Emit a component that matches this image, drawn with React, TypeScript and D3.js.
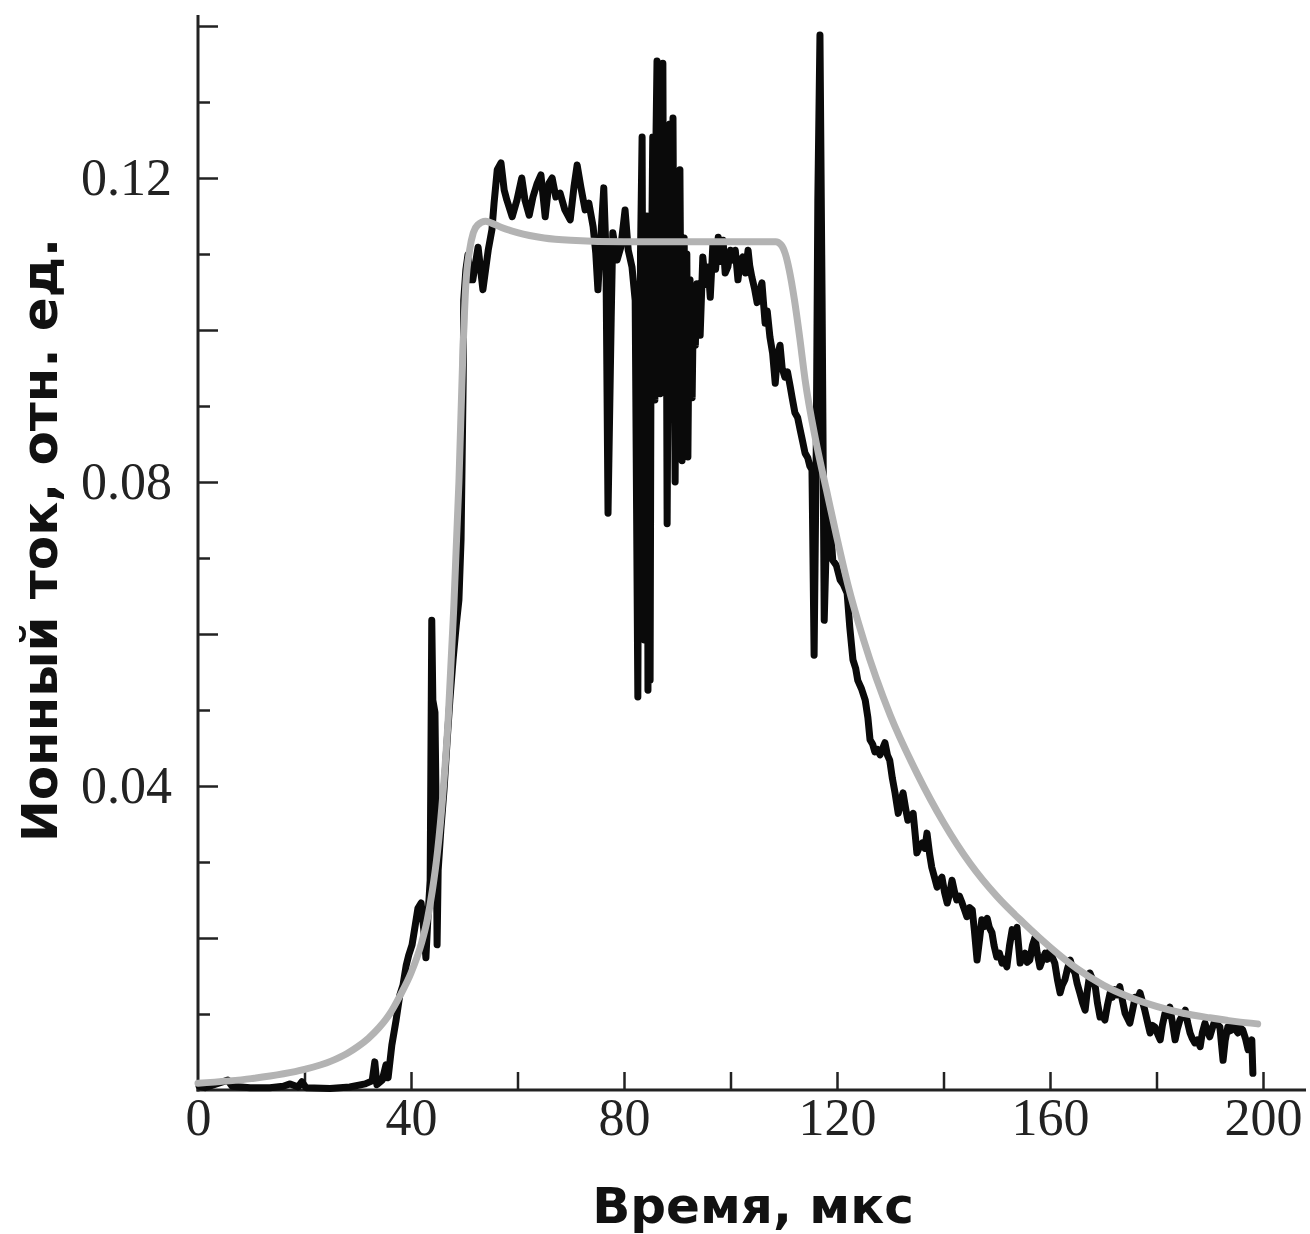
import React, { useEffect, useRef } from 'react';
import * as d3 from 'd3';

// измеренный ионный ток: [время, мкс; ток, отн. ед.]
const measured: [number, number][] = [
  [0.2, 0.0005], [1.3, 0.0003], [5.6, 0.0013], [6.4, 0.0005], [9.8, 0.0003], [13.5, 0.0003],
  [16, 0.0005], [17.3, 0.0008], [18.8, 0.0004], [19.5, 0.0011], [20.3, 0.0003], [24.8, 0.0002],
  [28.5, 0.0004], [31.4, 0.0008], [32.7, 0.0012], [33.2, 0.0037], [33.6, 0.0007], [34.6, 0.0013],
  [35.3, 0.0033], [35.7, 0.0016],
  [36.4, 0.0059], [37.2, 0.0092], [37.9, 0.0125], [38.5, 0.0138], [39.1, 0.0164], [39.6, 0.0178],
  [40.2, 0.0191], [40.8, 0.0217], [41.3, 0.0239], [41.9, 0.0246], [42.4, 0.0211], [42.8, 0.0174],
  [43.2, 0.023], [43.6, 0.0276], [43.9, 0.0618], [44.1, 0.0513], [44.5, 0.0497], [44.7, 0.0382],
  [44.9, 0.0191], [45.1, 0.0289], [45.6, 0.0342], [46.2, 0.0395], [46.8, 0.0461], [47.3, 0.0513],
  [47.9, 0.0566], [48.5, 0.0612], [49.0, 0.0645], [49.4, 0.0724], [49.6, 0.0829], [49.8, 0.0934],
  [49.9, 0.1039], [50.3, 0.1079], [50.7, 0.1099], [51.1, 0.1066],
  [51.6, 0.1066], [52.6, 0.1109], [53.5, 0.1053], [54.5, 0.1105], [55.2, 0.1132], [55.6, 0.1167],
  [56.2, 0.1211], [56.9, 0.122], [57.5, 0.1184], [58.0, 0.1171], [59.0, 0.1149], [59.9, 0.1171],
  [60.8, 0.12], [61.4, 0.1171], [62.2, 0.1151], [62.9, 0.1175], [63.7, 0.1193], [64.4, 0.1204],
  [65.2, 0.1149], [65.9, 0.1193], [66.5, 0.12], [67.2, 0.1175], [68.0, 0.118], [68.9, 0.1158],
  [69.9, 0.1145], [70.6, 0.1188], [71.2, 0.1217], [71.9, 0.1188], [72.7, 0.1158], [73.4, 0.1167],
  [74.2, 0.1136], [74.7, 0.1101], [75.1, 0.1053], [75.7, 0.1128], [76.2, 0.1187], [76.6, 0.1105],
  [77.0, 0.0759], [77.6, 0.1017], [77.9, 0.1128], [78.7, 0.1092], [79.4, 0.1109], [80.2, 0.1158],
  [80.8, 0.1105], [81.5, 0.1083], [82.1, 0.1039],
  [82.6, 0.0517], [82.8, 0.09], [82.9, 0.0697], [83.1, 0.11], [83.4, 0.1254], [83.6, 0.085],
  [83.8, 0.0592], [84.0, 0.1], [84.1, 0.0934], [84.3, 0.115], [84.5, 0.0526], [84.7, 0.095],
  [84.9, 0.0539], [85.1, 0.1039], [85.3, 0.118], [85.4, 0.1254], [85.6, 0.095], [85.8, 0.0908],
  [86.0, 0.125], [86.2, 0.1354], [86.4, 0.1], [86.6, 0.1171], [86.8, 0.0916], [86.9, 0.1276],
  [87.1, 0.11], [87.3, 0.1351], [87.5, 0.095], [87.7, 0.1039], [87.9, 0.118], [88.1, 0.0745],
  [88.3, 0.1], [88.5, 0.1237], [88.6, 0.1271], [88.8, 0.095], [89.0, 0.1092], [89.2, 0.1279],
  [89.4, 0.1], [89.6, 0.08], [89.8, 0.105], [90.0, 0.1149], [90.2, 0.095], [90.3, 0.0908],
  [90.5, 0.1211], [90.7, 0.1], [90.9, 0.0828], [91.1, 0.105], [91.3, 0.1121], [91.5, 0.092],
  [91.6, 0.0974], [91.8, 0.11], [92.0, 0.0833], [92.2, 0.1], [92.4, 0.1066], [92.6, 0.095],
  [92.8, 0.0911], [93.0, 0.102], [93.1, 0.1039], [93.4, 0.098], [93.7, 0.1061], [94.3, 0.0993],
  [94.8, 0.1096], [95.3, 0.106], [95.8, 0.1083], [96.2, 0.1043], [96.7, 0.1114], [97.2, 0.108],
  [97.7, 0.1122], [98.1, 0.109], [98.6, 0.1118], [99.0, 0.1075], [99.5, 0.1083], [100.0, 0.1105],
  [100.5, 0.1092], [100.9, 0.1105], [101.4, 0.1066], [101.8, 0.109], [102.3, 0.1096], [102.8, 0.1075],
  [103.3, 0.1105], [103.6, 0.1085], [104.0, 0.107], [104.5, 0.1055], [105.0, 0.1036], [105.4, 0.105],
  [105.9, 0.1062], [106.5, 0.1009], [106.9, 0.1025], [107.4, 0.0991], [107.9, 0.097], [108.4, 0.093],
  [108.8, 0.0965], [109.3, 0.098], [109.7, 0.095], [110.2, 0.0938], [110.7, 0.0945], [111.2, 0.0926],
  [111.6, 0.091], [112.1, 0.0891], [112.6, 0.0885], [113.1, 0.0868], [113.5, 0.0855], [114.0, 0.0838],
  [114.5, 0.0832], [114.9, 0.0821], [115.3, 0.0816],
  [115.7, 0.0572], [116.1, 0.0842], [116.4, 0.1171], [116.8, 0.1388], [117.2, 0.1039], [117.6, 0.0618],
  [117.9, 0.0697], [118.3, 0.0776], [118.7, 0.075], [119.2, 0.0697],
  [119.9, 0.069], [120.6, 0.0671], [121.2, 0.0665], [121.9, 0.0654], [122.4, 0.0609], [123.0, 0.0566],
  [123.5, 0.0555], [123.9, 0.0539], [124.6, 0.0528], [125.3, 0.0513], [125.8, 0.049], [126.2, 0.0461],
  [126.7, 0.0455], [127.1, 0.0445], [127.6, 0.0448], [128.1, 0.0441], [128.6, 0.045], [129.0, 0.0457],
  [129.5, 0.044], [129.9, 0.0434], [130.4, 0.041], [130.9, 0.0391], [131.5, 0.0364], [132.0, 0.038],
  [132.4, 0.0391], [132.9, 0.037], [133.3, 0.0355], [133.8, 0.036], [134.3, 0.0364], [134.7, 0.0335],
  [135.0, 0.0312], [135.5, 0.032], [136.0, 0.0325], [136.5, 0.0318], [136.9, 0.0338], [137.4, 0.031],
  [137.8, 0.0293], [138.3, 0.028], [138.8, 0.0267], [139.2, 0.0275], [139.7, 0.028], [140.2, 0.026],
  [140.7, 0.0246], [141.2, 0.026], [141.6, 0.0276], [142.1, 0.026], [142.5, 0.025], [143.0, 0.0255],
  [143.5, 0.0246], [144.0, 0.0236], [144.4, 0.0228], [144.9, 0.024], [145.4, 0.0237], [145.8, 0.021],
  [146.3, 0.0171], [146.8, 0.02], [147.2, 0.0224], [147.7, 0.0215], [148.2, 0.0226], [148.6, 0.0214],
  [149.1, 0.0207], [149.5, 0.019], [150.0, 0.0175], [150.5, 0.018], [151.0, 0.0167], [151.4, 0.0172],
  [151.9, 0.0162], [152.4, 0.019], [152.9, 0.0211], [153.3, 0.0202], [153.8, 0.0214], [154.1, 0.019],
  [154.4, 0.0167], [154.8, 0.0175], [155.3, 0.018], [155.7, 0.0168], [156.2, 0.0171], [156.7, 0.019],
  [157.2, 0.0201], [157.6, 0.018], [158.1, 0.0162], [158.6, 0.0172], [159.1, 0.018], [159.5, 0.0172],
  [160.0, 0.0184], [160.4, 0.0175], [160.9, 0.0167], [161.4, 0.0145], [161.9, 0.0128], [162.3, 0.0138],
  [162.8, 0.0145], [163.3, 0.016], [163.8, 0.0171], [164.2, 0.016], [164.7, 0.0154], [165.1, 0.014],
  [165.6, 0.0128], [166.1, 0.0115], [166.6, 0.0105], [167.0, 0.013], [167.5, 0.0154], [168.0, 0.0145],
  [168.5, 0.0136], [168.9, 0.0115], [169.4, 0.0096], [169.9, 0.0098], [170.3, 0.0092], [170.8, 0.0112],
  [171.3, 0.0128], [171.7, 0.0122], [172.2, 0.0132], [172.6, 0.0125], [173.1, 0.0136], [173.6, 0.0118],
  [174.1, 0.0101], [174.5, 0.0095], [175.0, 0.0088], [175.5, 0.0105], [176.0, 0.0122], [176.4, 0.0118],
  [176.9, 0.0128], [177.3, 0.0118], [177.8, 0.0105], [178.3, 0.009], [178.8, 0.0075], [179.2, 0.0085],
  [179.7, 0.0083], [180.2, 0.0074], [180.7, 0.0066], [181.1, 0.0085], [181.6, 0.0101], [182.0, 0.0098],
  [182.5, 0.0109], [183.0, 0.0088], [183.5, 0.0066], [183.9, 0.008], [184.4, 0.0092], [184.9, 0.0098],
  [185.4, 0.0105], [185.8, 0.009], [186.3, 0.0075], [186.7, 0.0068], [187.2, 0.0062], [187.7, 0.0066],
  [188.2, 0.0057], [188.6, 0.0075], [189.1, 0.0088], [189.5, 0.0078], [190.0, 0.007], [190.5, 0.0082],
  [191.0, 0.0092], [191.4, 0.0086], [191.9, 0.0083], [192.5, 0.0039], [192.9, 0.0065], [193.4, 0.0083],
  [193.9, 0.0078], [194.4, 0.0088], [194.8, 0.008], [195.3, 0.0075], [195.7, 0.0082], [196.2, 0.0079],
  [196.7, 0.0068], [197.2, 0.0053], [197.5, 0.006], [197.9, 0.0066], [198.1, 0.0022],
];

// расчётная кривая
const model: [number, number][] = [
  [0, 0.0009], [10, 0.0015], [20, 0.0027], [25, 0.0038], [28, 0.0048], [30, 0.0057], [32, 0.0068],
  [34, 0.0082], [36, 0.01], [38, 0.0125], [40, 0.0154], [42, 0.0194], [43, 0.0222], [44, 0.0262],
  [45, 0.0315], [46, 0.039], [47, 0.049], [48, 0.063], [49, 0.08], [49.7, 0.096], [50.3, 0.106],
  [51, 0.1105], [51.7, 0.1128], [52.5, 0.1138], [54, 0.1143], [55, 0.1141], [57, 0.1135],
  [60, 0.1128], [65, 0.1121], [70, 0.1118], [80, 0.1116], [100, 0.1116], [108.5, 0.1116],
  [109.5, 0.1112], [110.3, 0.11], [111, 0.108], [112, 0.104], [113, 0.099], [114, 0.0935],
  [116, 0.0855], [118, 0.079], [120, 0.0726], [122, 0.0666], [125, 0.0592], [130, 0.0493],
  [135, 0.0417], [140, 0.0352], [145, 0.0298], [150, 0.0255], [155, 0.022], [160, 0.0188],
  [165, 0.016], [170, 0.0138], [175, 0.0122], [180, 0.011], [185, 0.0101], [190, 0.0095],
  [195, 0.009], [199, 0.0087],
];

const timeTicks = [0, 20, 40, 60, 80, 100, 120, 140, 160, 180, 200];
const timeLabels = [0, 40, 80, 120, 160, 200];
const currentMajor = [0.02, 0.04, 0.06, 0.08, 0.1, 0.12, 0.14];
const currentMinor = [0.01, 0.03, 0.05, 0.07, 0.09, 0.11, 0.13];
const currentLabels = [0.04, 0.08, 0.12];

const W = 1310;
const H = 1234;

const App = () => {
  const ref = useRef<SVGSVGElement>(null);

  useEffect(() => {
    const svg = d3.select(ref.current);
    svg.selectAll('*').remove();

    const x = d3.scaleLinear().domain([0, 200]).range([198, 1263]);
    const y = d3.scaleLinear().domain([0, 0.14]).range([1090, 26]);
    const axisColor = '#222';
    const serif = '"Liberation Serif", "Times New Roman", serif';

    // оси
    svg.append('line')
      .attr('x1', x(0)).attr('x2', x(0))
      .attr('y1', 15).attr('y2', y(0) + 1.5)
      .attr('stroke', axisColor).attr('stroke-width', 3);
    svg.append('line')
      .attr('x1', x(0) - 1.5).attr('x2', 1306)
      .attr('y1', y(0)).attr('y2', y(0))
      .attr('stroke', axisColor).attr('stroke-width', 3);

    const xAxis = svg.append('g')
      .attr('transform', `translate(0,${y(0)})`)
      .call(d3.axisBottom(x)
        .tickValues(timeTicks)
        .tickSize(-18)
        .tickPadding(8)
        .tickFormat((d) => (timeLabels.includes(+d) ? String(d) : '')));
    xAxis.select('.domain').remove();
    xAxis.selectAll('.tick line').attr('stroke', axisColor).attr('stroke-width', 2.5);
    xAxis.selectAll('.tick').filter((d) => d === 0).select('line').remove();
    xAxis.selectAll('text')
      .attr('fill', axisColor)
      .style('font-family', serif)
      .style('font-size', '52px');

    const yMajor = svg.append('g')
      .attr('transform', `translate(${x(0)},0)`)
      .call(d3.axisLeft(y)
        .tickValues(currentMajor)
        .tickSize(-20)
        .tickPadding(26)
        .tickFormat((d) => (currentLabels.some((v) => Math.abs(v - +d) < 1e-9) ? d3.format('.2f')(+d) : '')));
    yMajor.select('.domain').remove();
    yMajor.selectAll('.tick line').attr('stroke', axisColor).attr('stroke-width', 2.5);
    yMajor.selectAll('text')
      .attr('fill', axisColor)
      .style('font-family', serif)
      .style('font-size', '52px');

    const yMinor = svg.append('g')
      .attr('transform', `translate(${x(0)},0)`)
      .call(d3.axisLeft(y).tickValues(currentMinor).tickSize(-12).tickFormat(() => ''));
    yMinor.select('.domain').remove();
    yMinor.selectAll('.tick line').attr('stroke', axisColor).attr('stroke-width', 2.5);

    const line = d3.line<[number, number]>()
      .x((d) => x(d[0]))
      .y((d) => y(d[1]));

    svg.append('path')
      .datum(measured)
      .attr('d', line)
      .attr('fill', 'none')
      .attr('stroke', '#0a0a0a')
      .attr('stroke-width', 7)
      .attr('stroke-linejoin', 'round')
      .attr('stroke-linecap', 'round');

    svg.append('path')
      .datum(model)
      .attr('d', line.curve(d3.curveMonotoneX))
      .attr('fill', 'none')
      .attr('stroke', '#b3b3b3')
      .attr('stroke-width', 7)
      .attr('stroke-linecap', 'round');

    // подписи осей
    svg.append('text')
      .attr('x', 753)
      .attr('y', 1223)
      .attr('text-anchor', 'middle')
      .attr('fill', '#111')
      .style('font-family', '"DejaVu Sans", sans-serif')
      .style('font-weight', 'bold')
      .style('font-size', '50px')
      .text('Время, мкс');

    svg.append('text')
      .attr('transform', 'translate(57,540) rotate(-90)')
      .attr('text-anchor', 'middle')
      .attr('fill', '#111')
      .style('font-family', '"DejaVu Sans", sans-serif')
      .style('font-weight', 'bold')
      .style('font-size', '50px')
      .text('Ионный ток, отн. ед.');
  }, []);

  return (
    <svg
      ref={ref}
      width={W}
      height={H}
      style={{ position: 'absolute', left: 0, top: 0, background: '#fff' }}
    />
  );
};

export default App;
